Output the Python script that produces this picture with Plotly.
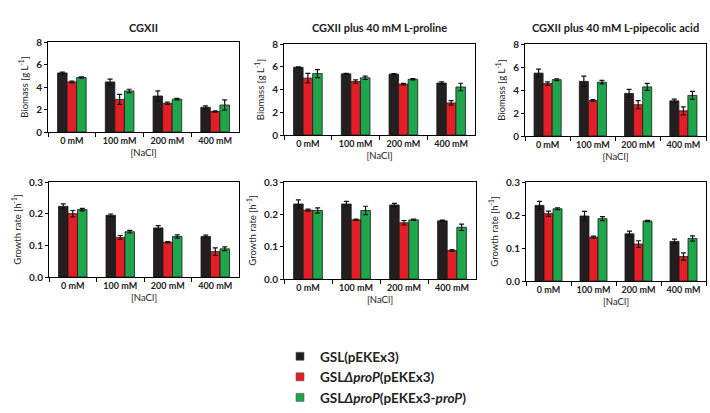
import plotly.graph_objects as go

W, H = 710, 413

categories = ["0 mM", "100 mM", "200 mM", "400 mM"]
strains = ["GSL(pEKEx3)", "GSL<i>ΔproP</i>(pEKEx3)", "GSL<i>ΔproP</i>(pEKEx3-<i>proP</i>)"]
colors = ["#231f20", "#e31e24", "#1fa64c"]

panel_titles = ["CGXII", "CGXII plus 40 mM L-proline", "CGXII plus 40 mM L-pipecolic acid"]

# Biomass [g/L]
biomass_cgxii_wt = [5.25, 4.45, 3.2, 2.2]
biomass_cgxii_wt_err = [0.08, 0.25, 0.45, 0.12]
biomass_cgxii_dprop = [4.45, 2.9, 2.55, 1.82]
biomass_cgxii_dprop_err = [0.08, 0.45, 0.1, 0.06]
biomass_cgxii_comp = [4.85, 3.65, 2.92, 2.4]
biomass_cgxii_comp_err = [0.06, 0.15, 0.07, 0.45]

biomass_pro_wt = [5.95, 5.38, 5.35, 4.57]
biomass_pro_wt_err = [0.05, 0.05, 0.05, 0.1]
biomass_pro_dprop = [5.0, 4.7, 4.47, 2.82]
biomass_pro_dprop_err = [0.42, 0.15, 0.07, 0.2]
biomass_pro_comp = [5.4, 5.03, 4.9, 4.22]
biomass_pro_comp_err = [0.35, 0.15, 0.05, 0.33]

biomass_pip_wt = [5.47, 4.75, 3.7, 3.06]
biomass_pip_wt_err = [0.35, 0.45, 0.35, 0.15]
biomass_pip_dprop = [4.56, 3.08, 2.72, 2.19]
biomass_pip_dprop_err = [0.15, 0.08, 0.35, 0.35]
biomass_pip_comp = [4.9, 4.68, 4.27, 3.53]
biomass_pip_comp_err = [0.08, 0.15, 0.3, 0.35]

# Growth rate [1/h]
growth_cgxii_wt = [0.223, 0.195, 0.155, 0.128]
growth_cgxii_wt_err = [0.008, 0.004, 0.007, 0.004]
growth_cgxii_dprop = [0.2, 0.125, 0.11, 0.08]
growth_cgxii_dprop_err = [0.01, 0.006, 0.002, 0.012]
growth_cgxii_comp = [0.213, 0.143, 0.128, 0.089]
growth_cgxii_comp_err = [0.004, 0.004, 0.005, 0.006]

growth_pro_wt = [0.232, 0.232, 0.229, 0.18]
growth_pro_wt_err = [0.013, 0.008, 0.005, 0.002]
growth_pro_dprop = [0.213, 0.183, 0.174, 0.088]
growth_pro_dprop_err = [0.003, 0.002, 0.007, 0.003]
growth_pro_comp = [0.212, 0.212, 0.183, 0.16]
growth_pro_comp_err = [0.008, 0.013, 0.002, 0.01]

growth_pip_wt = [0.229, 0.197, 0.143, 0.12]
growth_pip_wt_err = [0.012, 0.014, 0.008, 0.007]
growth_pip_dprop = [0.204, 0.133, 0.112, 0.074]
growth_pip_dprop_err = [0.008, 0.003, 0.01, 0.011]
growth_pip_comp = [0.219, 0.189, 0.182, 0.129]
growth_pip_comp_err = [0.003, 0.006, 0.002, 0.008]

panels = [
    ([biomass_cgxii_wt, biomass_cgxii_dprop, biomass_cgxii_comp],
     [biomass_cgxii_wt_err, biomass_cgxii_dprop_err, biomass_cgxii_comp_err]),
    ([biomass_pro_wt, biomass_pro_dprop, biomass_pro_comp],
     [biomass_pro_wt_err, biomass_pro_dprop_err, biomass_pro_comp_err]),
    ([biomass_pip_wt, biomass_pip_dprop, biomass_pip_comp],
     [biomass_pip_wt_err, biomass_pip_dprop_err, biomass_pip_comp_err]),
    ([growth_cgxii_wt, growth_cgxii_dprop, growth_cgxii_comp],
     [growth_cgxii_wt_err, growth_cgxii_dprop_err, growth_cgxii_comp_err]),
    ([growth_pro_wt, growth_pro_dprop, growth_pro_comp],
     [growth_pro_wt_err, growth_pro_dprop_err, growth_pro_comp_err]),
    ([growth_pip_wt, growth_pip_dprop, growth_pip_comp],
     [growth_pip_wt_err, growth_pip_dprop_err, growth_pip_comp_err]),
]

# plot-area boxes in pixels: (x0, x1, y0_top, y1_bottom)
boxes = [
    (48, 239, 42, 132),
    (284, 475, 44, 135),
    (525, 706, 44, 136),
    (49, 239, 182, 277),
    (284, 476, 182, 279),
    (526, 706, 182, 281),
]

FONT = "Lato"
TXT = "#222222"
fig = go.Figure()

for i, ((vals, errs), box) in enumerate(zip(panels, boxes)):
    n = i + 1
    xa = "x" if n == 1 else f"x{n}"
    ya = "y" if n == 1 else f"y{n}"
    for s in range(3):
        fig.add_trace(go.Bar(
            x=categories, y=vals[s], name=strains[s],
            marker=dict(color=colors[s], line=dict(color="#1a1a1a", width=0.8)),
            error_y=dict(type="data", array=errs[s], color="#111111", thickness=1.2, width=2.5),
            xaxis=xa, yaxis=ya, showlegend=False,
            offsetgroup=str(s),
        ))
    x0, x1, yt, yb = box
    top = i < 3
    xkey = "xaxis" if n == 1 else f"xaxis{n}"
    ykey = "yaxis" if n == 1 else f"yaxis{n}"
    fig.layout[xkey] = dict(
        domain=[x0 / W, x1 / W], anchor=ya, type="category", automargin=False,
        showline=True, linecolor="black", linewidth=1, mirror=True,
        ticks="outside", tickson="boundaries", ticklen=4, tickcolor="black",
        tickangle=0,
        tickfont=dict(family=FONT, size=9, color=TXT, weight="bold"),
        title=dict(text="[NaCl]", font=dict(family=FONT, size=9.5, color=TXT), standoff=4),
        showgrid=False, zeroline=False,
    )
    fig.layout[ykey] = dict(
        domain=[1 - yb / H, 1 - yt / H], anchor=xa, automargin=False,
        range=[0, 8] if top else [0, 0.3], dtick=2 if top else 0.1,
        tickformat="d" if top else ".1f",
        showline=True, linecolor="black", linewidth=1, mirror=True,
        ticks="outside", ticklen=3, tickcolor="black",
        tickfont=dict(family=FONT, size=10, color=TXT, weight="bold"),
        title=dict(text=("Biomass [g L<sup>-1</sup>]" if top else "Growth rate [h<sup>-1</sup>]"),
                   font=dict(family=FONT, size=9.5, color=TXT), standoff=5),
        showgrid=False, zeroline=False,
    )

# legend-only entries (small square swatches like the reference)
for s in range(3):
    fig.add_trace(go.Scatter(
        x=[None], y=[None], mode="markers", name=strains[s],
        marker=dict(symbol="square", size=8, color=colors[s], line=dict(color="#555", width=0.6)),
        showlegend=True, hoverinfo="skip",
    ))

for j, t in enumerate(panel_titles):
    x0, x1, yt, yb = boxes[j]
    fig.add_annotation(
        text=f"<b>{t}</b>", x=(x0 + x1) / 2 / W, y=1 - 27 / H, xref="paper", yref="paper",
        showarrow=False, font=dict(family=FONT, size=11, color=TXT), xanchor="center", yanchor="middle",
    )

fig.update_layout(
    template="none",
    width=W, height=H, margin=dict(l=0, r=0, t=0, b=0, autoexpand=False),
    paper_bgcolor="white", plot_bgcolor="white",
    barmode="group", bargap=0.4, bargroupgap=0,
    showlegend=True,
    legend=dict(x=280 / W, y=1 - 341 / H, xanchor="left", yanchor="top",
                font=dict(family=FONT, size=13.5, color=TXT, weight="bold"),
                bgcolor="rgba(0,0,0,0)", tracegroupgap=0, itemwidth=30,
                itemclick=False, itemdoubleclick=False),
)

fig.write_html(
    "out.html",
    config={"displayModeBar": False},
    post_script="document.body.style.margin='0';document.body.style.overflow='hidden';",
)
